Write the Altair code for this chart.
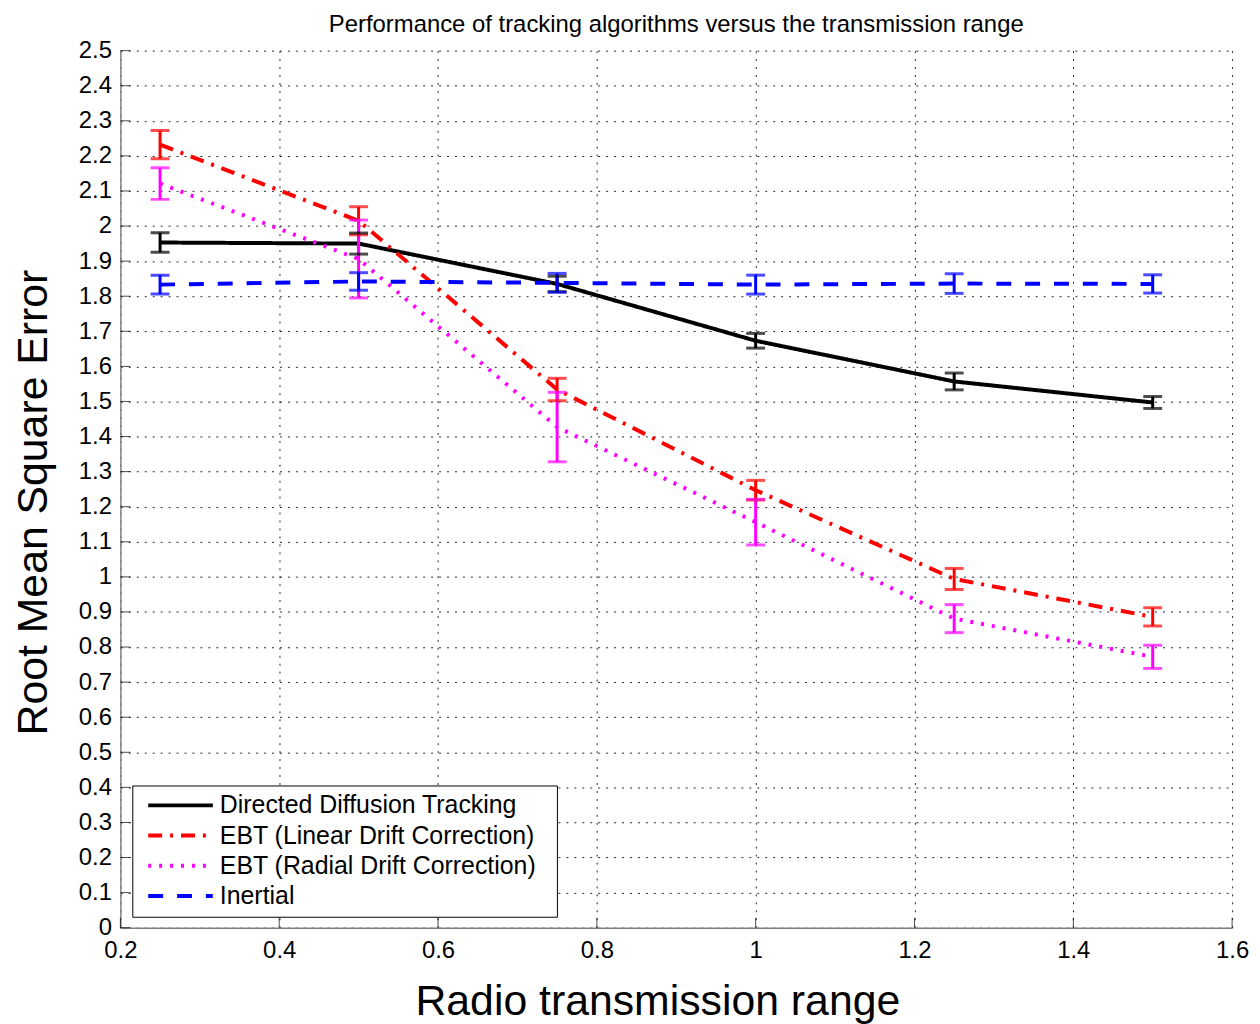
import altair as alt
import pandas as pd

# ---------------- data ----------------
x_vals = [0.25, 0.5, 0.75, 1.0, 1.25, 1.5]

series_names = [
    "Directed Diffusion Tracking",
    "EBT (Linear Drift Correction)",
    "EBT (Radial Drift Correction)",
    "Inertial",
]

ddt_mean = [1.953, 1.950, 1.835, 1.673, 1.557, 1.497]
ddt_err = [0.028, 0.030, 0.022, 0.021, 0.024, 0.017]

lin_mean = [2.232, 2.015, 1.534, 1.247, 0.994, 0.886]
lin_err = [0.040, 0.040, 0.032, 0.028, 0.030, 0.026]

rad_mean = [2.121, 1.906, 1.427, 1.156, 0.881, 0.772]
rad_err = [0.045, 0.111, 0.099, 0.065, 0.040, 0.033]

ine_mean = [1.833, 1.842, 1.838, 1.833, 1.836, 1.835]
ine_err = [0.027, 0.025, 0.027, 0.027, 0.028, 0.026]

x_ticks = [0.2, 0.4, 0.6, 0.8, 1.0, 1.2, 1.4, 1.6]
y_ticks = [0, 0.1, 0.2, 0.3, 0.4, 0.5, 0.6, 0.7, 0.8, 0.9, 1.0, 1.1, 1.2,
           1.3, 1.4, 1.5, 1.6, 1.7, 1.8, 1.9, 2.0, 2.1, 2.2, 2.3, 2.4, 2.5]

colors = ["#000000", "#ff0000", "#ff00ff", "#0000ff"]
dashes = [[1, 0], [14, 8, 3, 8], [3, 8], [15, 14]]

means = [ddt_mean, lin_mean, rad_mean, ine_mean]
errs = [ddt_err, lin_err, rad_err, ine_err]

rows = []
for name, m, e in zip(series_names, means, errs):
    for xv, mv, ev in zip(x_vals, m, e):
        rows.append({"series": name, "x": xv, "mean": mv,
                     "lo": mv - ev, "hi": mv + ev})
df = pd.DataFrame(rows)

ytick_df = pd.DataFrame({"y": y_ticks, "x": [x_ticks[0]] * len(y_ticks)})
xtick_df = pd.DataFrame({"x": x_ticks, "y": [y_ticks[0]] * len(x_ticks)})

# ---------------- scales / axes ----------------
xscale = alt.Scale(domain=[x_ticks[0], x_ticks[-1]], nice=False, zero=False)
yscale = alt.Scale(domain=[y_ticks[0], y_ticks[-1]], nice=False, zero=False)
color_scale = alt.Scale(domain=series_names, range=colors)
dash_scale = alt.Scale(domain=series_names, range=dashes)

xaxis = alt.Axis(values=x_ticks, format="~g", title="Radio transmission range",
                 labelPadding=11, titleX=540, titleY=87,
                 titleBaseline="alphabetic", titleAlign="center")
yaxis = alt.Axis(values=y_ticks, format="~g", title="Root Mean Square Error",
                 labelPadding=9, titleAngle=270, titleX=-74, titleY=454,
                 titleAlign="center", titleBaseline="alphabetic")

legend = alt.Legend(title="\u00a0", titleOrient="right", titlePadding=16,
                    titleFontSize=25, orient="none", legendX=12, legendY=739)


def X(field):
    return alt.X(field, scale=xscale, axis=xaxis)


def Y(field):
    return alt.Y(field, scale=yscale, axis=yaxis)


lines = alt.Chart(df).mark_line(strokeWidth=4).encode(
    x=X("x:Q"),
    y=Y("mean:Q"),
    color=alt.Color("series:N", scale=color_scale, legend=legend),
    strokeDash=alt.StrokeDash("series:N", scale=dash_scale, legend=legend),
)

bars = alt.Chart(df).mark_rule(strokeWidth=3).encode(
    x=X("x:Q"),
    y=Y("lo:Q"),
    y2="hi:Q",
    color=alt.Color("series:N", scale=color_scale, legend=None),
)

caps_lo = alt.Chart(df).mark_tick(orient="horizontal", size=19, thickness=3).encode(
    x=X("x:Q"),
    y=Y("lo:Q"),
    color=alt.Color("series:N", scale=color_scale, legend=None),
)
caps_hi = alt.Chart(df).mark_tick(orient="horizontal", size=19, thickness=3).encode(
    x=X("x:Q"),
    y=Y("hi:Q"),
    color=alt.Color("series:N", scale=color_scale, legend=None),
)

yticks_in = alt.Chart(ytick_df).mark_tick(
    orient="horizontal", size=10, thickness=1, color="black", xOffset=5
).encode(x=X("x:Q"), y=Y("y:Q"))

xticks_in = alt.Chart(xtick_df).mark_tick(
    orient="vertical", size=10, thickness=1, color="black", yOffset=-5
).encode(x=X("x:Q"), y=Y("y:Q"))

chart = alt.layer(
    lines, yticks_in, xticks_in, bars, caps_lo, caps_hi
).properties(
    width=1118,
    height=882,
    autosize=alt.AutoSizeParams(type="none"),
    padding={"left": 113, "top": 40, "right": 20, "bottom": 94},
    background="white",
    title=alt.Title(
        "Performance of tracking algorithms versus the transmission range",
        font="Liberation Sans", fontSize=24, fontWeight="normal",
        color="black", anchor="middle", frame="group",
        baseline="alphabetic", offset=-17,
    ),
).configure_view(
    stroke=None
).configure_axis(
    grid=True, gridDash=[2, 6], gridColor="black", gridWidth=1, gridOpacity=0.85,
    ticks=False, domainColor="#808080", domainWidth=1.5,
    labelFont="Liberation Sans", labelFontSize=24, labelColor="black",
    labelFlush=False, labelOverlap=False,
    titleFont="Liberation Sans", titleFontSize=43, titleFontWeight="normal",
    titleColor="black",
).configure_legend(
    padding=5, strokeColor="black", fillColor="white",
    symbolType="stroke", symbolSize=4225, symbolStrokeWidth=4,
    symbolOffset=9, labelOffset=5, labelFontSize=25,
    labelFont="Liberation Sans", labelColor="black", labelLimit=500,
    clipHeight=30, rowPadding=0.4,
)

chart.save("out.html", embed_options={"renderer": "svg", "actions": False})
